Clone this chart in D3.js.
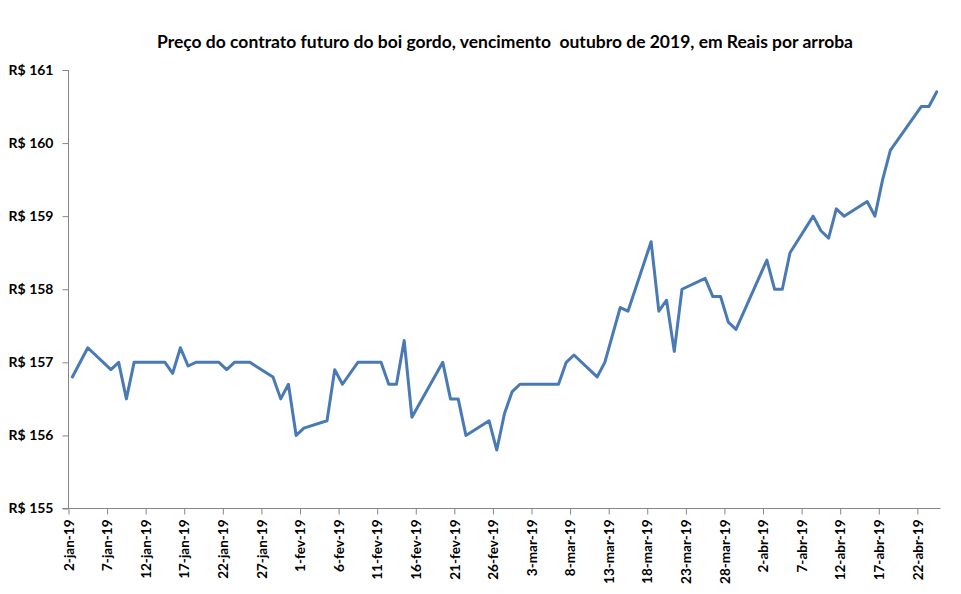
<!DOCTYPE html>
<html><head><meta charset="utf-8">
<script src="https://cdn.jsdelivr.net/npm/d3@7"></script>
<style>
html,body{margin:0;padding:0;background:#fff;}
svg{display:block;font-family:Lato,"Open Sans",sans-serif;}
</style></head>
<body><svg id="c" width="961" height="594"></svg>
<script>
const title = "Preço do contrato futuro do boi gordo, vencimento  outubro de 2019, em Reais por arroba";
const dates = ["2019-01-02","2019-01-04","2019-01-07","2019-01-08","2019-01-09","2019-01-10","2019-01-11",
"2019-01-14","2019-01-15","2019-01-16","2019-01-17","2019-01-18","2019-01-21","2019-01-22","2019-01-23",
"2019-01-24","2019-01-25","2019-01-28","2019-01-29","2019-01-30","2019-01-31","2019-02-01","2019-02-04",
"2019-02-05","2019-02-06","2019-02-08","2019-02-11","2019-02-12","2019-02-13","2019-02-14","2019-02-15",
"2019-02-19","2019-02-20","2019-02-21","2019-02-22","2019-02-25","2019-02-26","2019-02-27","2019-02-28",
"2019-03-01","2019-03-06","2019-03-07","2019-03-08","2019-03-11","2019-03-12","2019-03-14","2019-03-15",
"2019-03-18","2019-03-19","2019-03-20","2019-03-21","2019-03-22","2019-03-25","2019-03-26","2019-03-27",
"2019-03-28","2019-03-29","2019-04-02","2019-04-03","2019-04-04","2019-04-05","2019-04-08","2019-04-09",
"2019-04-10","2019-04-11","2019-04-12","2019-04-15","2019-04-16","2019-04-17","2019-04-18","2019-04-22",
"2019-04-23","2019-04-24"];
const prices = [156.8,157.2,156.9,157.0,156.5,157.0,157.0,
157.0,156.85,157.2,156.95,157.0,157.0,156.9,157.0,
157.0,157.0,156.8,156.5,156.7,156.0,156.1,156.2,
156.9,156.7,157.0,157.0,156.7,156.7,157.3,156.25,
157.0,156.5,156.5,156.0,156.2,155.8,156.3,156.6,
156.7,156.7,157.0,157.1,156.8,157.0,157.75,157.7,
158.65,157.7,157.85,157.15,158.0,158.15,157.9,157.9,
157.55,157.45,158.4,158.0,158.0,158.5,159.0,158.8,
158.7,159.1,159.0,159.2,159.0,159.5,159.9,160.5,
160.5,160.7];
const tickDates = ["2019-01-02","2019-01-07","2019-01-12","2019-01-17","2019-01-22","2019-01-27",
"2019-02-01","2019-02-06","2019-02-11","2019-02-16","2019-02-21","2019-02-26","2019-03-03",
"2019-03-08","2019-03-13","2019-03-18","2019-03-23","2019-03-28","2019-04-02","2019-04-07",
"2019-04-12","2019-04-17","2019-04-22"];
const tickLabels = ["2-jan-19","7-jan-19","12-jan-19","17-jan-19","22-jan-19","27-jan-19",
"1-fev-19","6-fev-19","11-fev-19","16-fev-19","21-fev-19","26-fev-19","3-mar-19",
"8-mar-19","13-mar-19","18-mar-19","23-mar-19","28-mar-19","2-abr-19","7-abr-19",
"12-abr-19","17-abr-19","22-abr-19"];
const yTicks = [155,156,157,158,159,160,161];
const yLabels = ["R$ 155","R$ 156","R$ 157","R$ 158","R$ 159","R$ 160","R$ 161"];

const svg = d3.select("#c");
const parse = d3.utcParse("%Y-%m-%d");
const x = d3.scaleUtc().domain([parse("2019-01-02"), parse("2019-04-25")]).range([68.5, 940.5]);
const y = d3.scaleLinear().domain([155,161]).range([508.5, 70]);
const halfDay = 12*3600*1000;
const axisColor = "#868686";

svg.append("text").attr("x", 505).attr("y", 48).attr("text-anchor","middle")
  .attr("font-size", 16.5).attr("font-weight", 700).attr("fill","#000")
  .attr("textLength", 696).attr("lengthAdjust","spacingAndGlyphs")
  .attr("xml:space","preserve").style("white-space","pre").text(title);

// y axis
const yAxis = d3.axisLeft(y).tickValues(yTicks).tickSize(6).tickPadding(9)
  .tickFormat((d,i)=>yLabels[i]);
const gy = svg.append("g").attr("transform","translate(68.5,0)").call(yAxis);
gy.select(".domain").attr("stroke", axisColor).attr("d", "M0,70V508.5");
gy.selectAll(".tick line").attr("stroke", axisColor);
gy.selectAll(".tick text").attr("font-size", 14).attr("font-weight",700).attr("fill","#000")
  .attr("font-family","Lato,sans-serif");

// x axis
const xAxis = d3.axisBottom(x).tickValues(tickDates.map(parse)).tickSize(6).tickPadding(6)
  .tickFormat((d,i)=>tickLabels[i]);
const gx = svg.append("g").attr("transform","translate(0,508.5)").call(xAxis);
gx.select(".domain").attr("stroke", axisColor).attr("d","M62.5,0H940.5");
gx.selectAll(".tick line").attr("stroke", axisColor);
gx.selectAll(".tick text").attr("font-size", 13.5).attr("font-weight",700).attr("fill","#000")
  .attr("font-family","Lato,sans-serif")
  .attr("transform","rotate(-90)").attr("text-anchor","end").attr("dy","0.35em")
  .attr("x", -11).attr("y", 0);

// line
const data = dates.map((d,i)=>({date: new Date(parse(d).getTime()+halfDay), v: prices[i]}));
svg.append("path").datum(data)
  .attr("fill","none").attr("stroke","#4a7ab4").attr("stroke-width",3)
  .attr("stroke-linejoin","round").attr("stroke-linecap","round")
  .attr("d", d3.line().x(d=>x(d.date)).y(d=>y(d.v)));
</script></body></html>
